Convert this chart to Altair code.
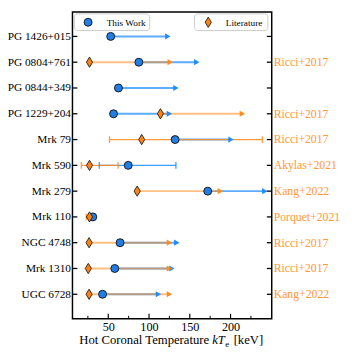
import json
import altair as alt
import pandas as pd

# ---------------- data ----------------
names = ["PG 1426+015", "PG 0804+761", "PG 0844+349", "PG 1229+204", "Mrk 79",
         "Mrk 590", "Mrk 279", "Mrk 110", "NGC 4748", "Mrk 1310", "UGC 6728"]
refs = ["", "Ricci+2017", "", "Ricci+2017", "Ricci+2017", "Akylas+2021",
        "Kang+2022", "Porquet+2021", "Ricci+2017", "Ricci+2017", "Kang+2022"]

# This work
this_kte = [53, 87.5, 62.5, 56.5, 132, 74.5, 172, 31, 64.5, 58, 43]
this_limit_end = [123, 158.5, 133, 125, 200.5, None, 242, None, 134, 128, 111.5]
this_err_lo = [None, None, None, None, None, 39, None, 28.5, None, None, None]
this_err_hi = [None, None, None, None, None, 133, None, 33.5, None, None, None]

# Literature
lit_kte = [None, 27, None, 114, 91, 27, 85.5, 27, 26.5, 25.5, 26.5]
lit_limit_end = [None, 126, None, 214.5, None, None, 187.5, None, 125, 125, 125]
lit_err_lo = [None, None, None, None, 51.5, 17, None, 23, None, None, None]
lit_err_hi = [None, None, None, None, 239, 62, None, 31, None, None, None]

x_major = [50, 100, 150, 200]
x_minor = [25, 75, 125, 175, 225]
legend_labels = ["This Work", "Literature"]

# ---------------- styling ----------------
W, H = 204, 314
FONT = "Liberation Serif"
BLUE_PT = "#1f7fe6"
BLUE_LN = "#1e8cff"
ORANGE_PT = "#ff8210"
ORANGE_LN = "#ff8c1a"
REF_COL = "#ff9933"
EDGE = "#1a1a1a"
DIAMOND = "M0,-1L0.6,0L0,1L-0.6,0Z"

idx = list(range(len(names)))
df = pd.DataFrame({
    "idx": idx, "name": names, "ref": refs,
    "this": this_kte, "this_end": this_limit_end,
    "this_lo": this_err_lo, "this_hi": this_err_hi,
    "lit": lit_kte, "lit_end": lit_limit_end,
    "lit_lo": lit_err_lo, "lit_hi": lit_err_hi,
})

xs = alt.Scale(domain=[6.1, 250.5], nice=False, zero=False)
ys = alt.Scale(domain=[-0.947, 10.947], reverse=True, nice=False, zero=False)

label_expr = json.dumps(names) + "[datum.value]"

x_axis = alt.Axis(values=x_major, tickSize=0, domain=False, grid=False,
                  labelPadding=2, labelFont=FONT, labelFontSize=12.5,
                  labelColor="black", format="d", title=None)
y_axis = alt.Axis(values=idx, tickSize=0, domain=False, grid=False,
                  labelPadding=2, labelFont=FONT, labelFontSize=11.6,
                  labelColor="black", labelExpr=label_expr, title=None)

base = alt.Chart(df)

def X(f):
    return alt.X(f, type="quantitative", scale=xs, axis=x_axis, title=None)

Y = alt.Y("idx:Q", scale=ys, axis=y_axis, title=None)

def valid(f):
    return f"isValid(datum['{f}'])"

# limit lines
this_lim_line = base.transform_filter(valid("this_end")).mark_rule(
    color=BLUE_LN, strokeWidth=2, opacity=0.72).encode(x=X("this"), x2="this_end:Q", y=Y)
lit_lim_line = base.transform_filter(valid("lit_end")).mark_rule(
    color=ORANGE_LN, strokeWidth=2, opacity=0.55).encode(x=X("lit"), x2="lit_end:Q", y=Y)

# error bars
this_err = base.transform_filter(valid("this_lo")).mark_rule(
    color=BLUE_LN, strokeWidth=1.3, opacity=0.85).encode(x=X("this_lo"), x2="this_hi:Q", y=Y)
lit_err = base.transform_filter(valid("lit_lo")).mark_rule(
    color=ORANGE_LN, strokeWidth=1.3, opacity=0.85).encode(x=X("lit_lo"), x2="lit_hi:Q", y=Y)

def caps(lo, hi, color):
    d = base.transform_filter(valid(lo)).transform_fold([lo, hi], as_=["k", "v"])
    return d.mark_tick(orient="vertical", size=7, thickness=1.3, color=color, opacity=0.85).encode(
        x=X("v"), y=Y)

this_caps = caps("this_lo", "this_hi", BLUE_LN)
lit_caps = caps("lit_lo", "lit_hi", ORANGE_LN)

# arrowheads
this_arrow = base.transform_filter(valid("this_end")).mark_point(
    shape="triangle-right", filled=True, size=40, color=BLUE_LN, opacity=1).encode(
    x=X("this_end"), y=Y)
lit_arrow = base.transform_filter(valid("lit_end")).mark_point(
    shape="triangle-right", filled=True, size=40, color=ORANGE_LN, opacity=1).encode(
    x=X("lit_end"), y=Y)

# main markers
circles = base.transform_filter(valid("this")).mark_point(
    shape="circle", filled=True, size=66, fill=BLUE_PT, stroke=EDGE, strokeWidth=1,
    opacity=1).encode(x=X("this"), y=Y)
diamonds = base.transform_filter(valid("lit")).mark_point(
    shape=DIAMOND, filled=True, size=110, fill=ORANGE_PT, stroke=EDGE, strokeWidth=0.9,
    opacity=1).encode(x=X("lit"), y=Y)

# inward ticks
left_ticks = base.mark_rule(color="black", strokeWidth=1.3).encode(
    y=Y, x=alt.value(0), x2=alt.value(5))
right_ticks = base.mark_rule(color="black", strokeWidth=1.3).encode(
    y=Y, x=alt.value(W - 5), x2=alt.value(W))
tick_df = pd.DataFrame({"v": x_major})
minor_df = pd.DataFrame({"v": x_minor})
bottom_major = alt.Chart(tick_df).mark_rule(color="black", strokeWidth=1.2).encode(
    x=X("v"), y=alt.value(H), y2=alt.value(H - 5))
bottom_minor = alt.Chart(minor_df).mark_rule(color="black", strokeWidth=1).encode(
    x=X("v"), y=alt.value(H), y2=alt.value(H - 3))

# right-hand reference labels
ref_text = base.mark_text(align="left", baseline="middle", font=FONT, fontSize=12,
                          color=REF_COL).encode(
    y=Y, x=alt.value(W + 2), text="ref:N")

# legend boxes
leg = pd.DataFrame({"label": legend_labels})
leg1 = alt.Chart(leg.iloc[[0]])
leg2 = alt.Chart(leg.iloc[[1]])
box1 = leg1.mark_rect(fill="white", stroke="#cccccc", strokeWidth=1, cornerRadius=3).encode(
    x=alt.value(2), x2=alt.value(79), y=alt.value(2), y2=alt.value(19))
box2 = leg2.mark_rect(fill="white", stroke="#cccccc", strokeWidth=1, cornerRadius=3).encode(
    x=alt.value(125), x2=alt.value(200), y=alt.value(2), y2=alt.value(19))
sym1 = leg1.mark_point(shape="circle", filled=True, size=66, fill=BLUE_PT, stroke=EDGE,
                       strokeWidth=1, opacity=1).encode(x=alt.value(16), y=alt.value(10.5))
sym2 = leg2.mark_point(shape=DIAMOND, filled=True, size=110, fill=ORANGE_PT, stroke=EDGE,
                       strokeWidth=0.9, opacity=1).encode(x=alt.value(139), y=alt.value(10.5))
txt1 = leg1.mark_text(align="left", baseline="middle", font=FONT, fontSize=9.5,
                      color="black").encode(x=alt.value(35), y=alt.value(11), text="label:N")
txt2 = leg2.mark_text(align="left", baseline="middle", font=FONT, fontSize=9.5,
                      color="black").encode(x=alt.value(157), y=alt.value(11), text="label:N")

# x-axis title with italic kT and subscript e
title_df = pd.DataFrame({"a": ["Hot Coronal Temperature"], "b": ["kT"], "c": ["e"], "d": ["[keV]"]})
tb = alt.Chart(title_df)
TY = 340
t_a = tb.mark_text(align="right", baseline="alphabetic", font=FONT, fontSize=13,
                   color="black").encode(x=alt.value(140), y=alt.value(TY), text="a:N")
t_b = tb.mark_text(align="left", baseline="alphabetic", font=FONT, fontSize=13,
                   fontStyle="italic", color="black").encode(x=alt.value(143), y=alt.value(TY), text="b:N")
t_c = tb.mark_text(align="left", baseline="alphabetic", font=FONT, fontSize=9,
                   color="black").encode(x=alt.value(156.5), y=alt.value(TY + 2.5), text="c:N")
t_d = tb.mark_text(align="left", baseline="alphabetic", font=FONT, fontSize=13,
                   color="black").encode(x=alt.value(165), y=alt.value(TY), text="d:N")

chart = alt.layer(
    this_lim_line, lit_lim_line,
    this_err, lit_err, this_caps, lit_caps,
    this_arrow, lit_arrow,
    circles, diamonds,
    left_ticks, right_ticks, bottom_major, bottom_minor,
    ref_text,
    box1, box2, sym1, sym2, txt1, txt2,
    t_a, t_b, t_c, t_d,
).properties(
    width=W, height=H,
    autosize=alt.AutoSizeParams(type="none"),
    padding={"left": 66, "top": 0, "right": 74, "bottom": 30},
    background="white",
).configure_view(
    stroke="black", strokeWidth=1.5
)

chart.save("out.html", embed_options={"renderer": "svg", "actions": False})
